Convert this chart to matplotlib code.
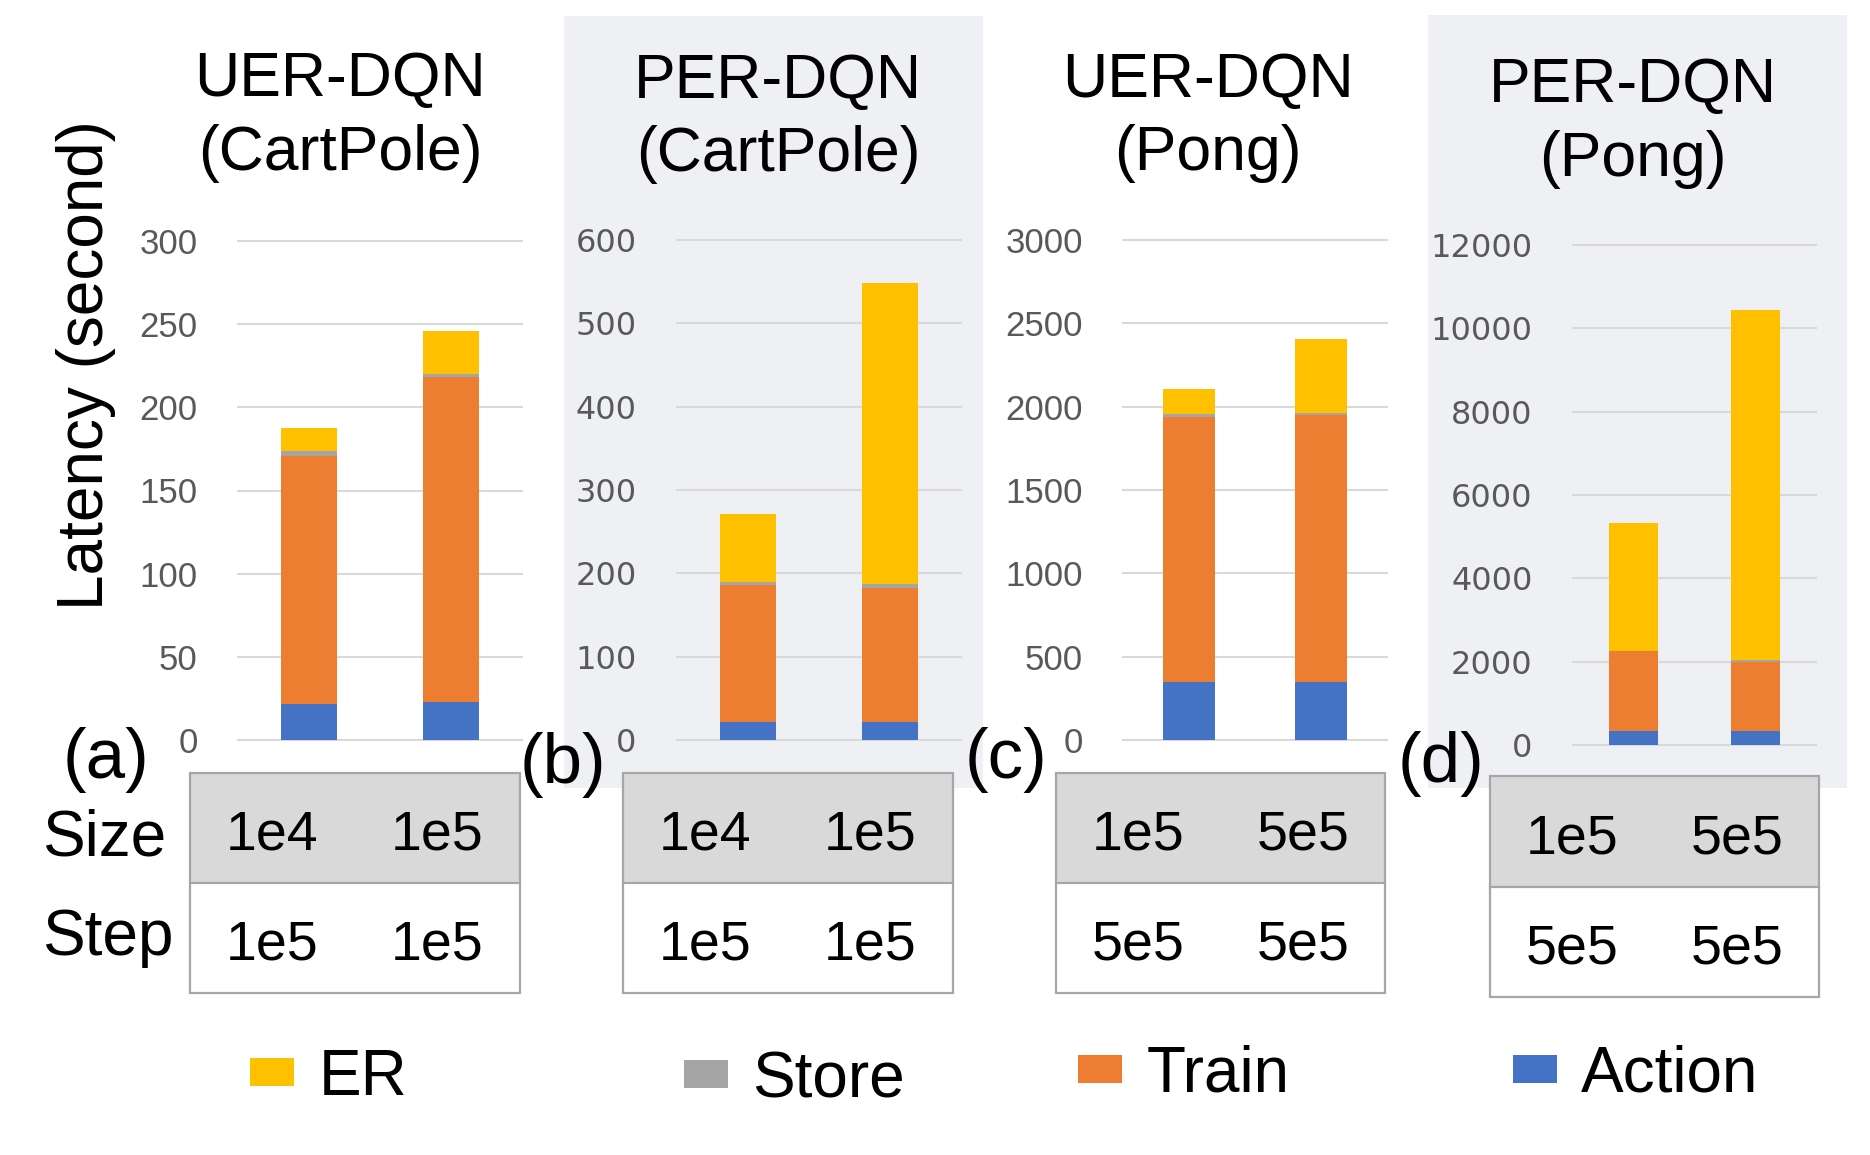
import numpy as np
import matplotlib
matplotlib.use("Agg")
import matplotlib.pyplot as plt
from matplotlib.patches import Rectangle

plt.rcParams['font.family'] = ['Liberation Sans', 'DejaVu Sans']

# ---------------- data ----------------
series = ['Action', 'Train', 'Store', 'ER']          # stacking order (bottom -> top)
legend_order = ['ER', 'Store', 'Train', 'Action']
colors = {'ER': '#FFC000', 'Store': '#A5A5A5', 'Train': '#ED7D31', 'Action': '#4472C4'}

titles_line1 = ['UER-DQN', 'PER-DQN', 'UER-DQN', 'PER-DQN']
titles_line2 = ['(CartPole)', '(CartPole)', '(Pong)', '(Pong)']
panel_tags = ['(a)', '(b)', '(c)', '(d)']

action_a = [21.6, 22.8]
train_a = [149.1, 195.2]
store_a = [2.8, 2.1]
er_a = [14.0, 25.5]

action_b = [22.1, 22.1]
train_b = [163.6, 160.6]
store_b = [4.2, 4.8]
er_b = [81.7, 361.1]

action_c = [349, 349]
train_c = [1592, 1603]
store_c = [15, 13]
er_c = [153, 444]

action_d = [346, 346]
train_d = [1899, 1648]
store_d = [15, 36]
er_d = [3065, 8406]

yticks_a = [0, 50, 100, 150, 200, 250, 300]
yticks_b = [0, 100, 200, 300, 400, 500, 600]
yticks_c = [0, 500, 1000, 1500, 2000, 2500, 3000]
yticks_d = [0, 2000, 4000, 6000, 8000, 10000, 12000]

row_labels = ['Size', 'Step']
size_a, step_a = ['1e4', '1e5'], ['1e5', '1e5']
size_b, step_b = ['1e4', '1e5'], ['1e5', '1e5']
size_c, step_c = ['1e5', '5e5'], ['5e5', '5e5']
size_d, step_d = ['1e5', '5e5'], ['5e5', '5e5']

ylabel = 'Latency (second)'

panels = [
    dict(Action=action_a, Train=train_a, Store=store_a, ER=er_a, yticks=yticks_a, size=size_a, step=step_a),
    dict(Action=action_b, Train=train_b, Store=store_b, ER=er_b, yticks=yticks_b, size=size_b, step=step_b),
    dict(Action=action_c, Train=train_c, Store=store_c, ER=er_c, yticks=yticks_c, size=size_c, step=step_c),
    dict(Action=action_d, Train=train_d, Store=store_d, ER=er_d, yticks=yticks_d, size=size_d, step=step_d),
]

# ---------------- layout (pixels) ----------------
W, H = 1870, 1155
fig = plt.figure(figsize=(W / 100, H / 100), dpi=100)
fig.patch.set_facecolor('white')

# overlay axes in pixel coordinates for decorations
ov = fig.add_axes([0, 0, 1, 1])
ov.set_xlim(0, W)
ov.set_ylim(H, 0)
ov.axis('off')

shade_boxes = [None, (564, 16, 983, 788), None, (1428, 15, 1847, 788)]
axes_boxes = [(238, 241, 522, 740), (677, 240, 961, 740), (1123, 240, 1387, 740), (1573, 245, 1816, 745)]
title_x = [340, 778, 1208, 1633]
title_y1 = [96, 98, 97, 102]
title_y2 = [170, 171, 170, 176]
tag_x = [63, 520, 965, 1398]
tag_y = [778, 783, 778, 782]
table_boxes = [(190, 773, 520, 993), (623, 773, 953, 993), (1056, 773, 1385, 993), (1490, 776, 1819, 997)]
tick_fonts = ['Liberation Sans', 'DejaVu Sans', 'Liberation Sans', 'DejaVu Sans']
tick_sizes = [25, 23, 25, 23]

for sb in shade_boxes:
    if sb is not None:
        x0, y0, x1, y1 = sb
        ov.add_patch(Rectangle((x0, y0), x1 - x0, y1 - y0, facecolor='#EFF0F4', edgecolor='none', zorder=0))

# tables
for i, (tb, p) in enumerate(zip(table_boxes, panels)):
    x0, y0, x1, y1 = tb
    ym = (y0 + y1) / 2
    ov.add_patch(Rectangle((x0, y0), x1 - x0, ym - y0, facecolor='#D9D9D9', edgecolor='none', zorder=2))
    ov.add_patch(Rectangle((x0, y0), x1 - x0, y1 - y0, facecolor='none', edgecolor='#A6A6A6', lw=1.6, zorder=3))
    ov.plot([x0, x1], [ym, ym], color='#A6A6A6', lw=1.6, zorder=3)
    cw = (x1 - x0) / 2
    for j in range(2):
        cx = x0 + cw * (j + 0.5)
        ov.text(cx, y0 + 77, p['size'][j], fontsize=40, ha='center', va='baseline', zorder=4)
        ov.text(cx, y0 + 187, p['step'][j], fontsize=40, ha='center', va='baseline', zorder=4)

ov.text(42, 855, row_labels[0], fontsize=46, ha='left', va='baseline')
ov.text(42, 955, row_labels[1], fontsize=46, ha='left', va='baseline')

for i in range(4):
    ov.text(title_x[i], title_y1[i], titles_line1[i], fontsize=45, ha='center', va='baseline')
    ov.text(title_x[i], title_y2[i], titles_line2[i], fontsize=45, ha='center', va='baseline')
    ov.text(tag_x[i], tag_y[i], panel_tags[i], fontsize=51, ha='left', va='baseline', zorder=5)

ov.text(86, 365, ylabel, fontsize=46, rotation=90, ha='center', va='center')

# ---------------- bar panels ----------------
handles = {}
x = np.arange(2)
for i, (ab, p) in enumerate(zip(axes_boxes, panels)):
    x0, y0, x1, y1 = ab
    ax = fig.add_axes([x0 / W, 1 - y1 / H, (x1 - x0) / W, (y1 - y0) / H])
    ax.patch.set_visible(False)
    bottom = np.zeros(2)
    for s in series:
        vals = np.array(p[s], dtype=float)
        bc = ax.bar(x, vals, width=0.40, bottom=bottom, color=colors[s], zorder=3)
        bottom += vals
        if i == 0:
            handles[s] = bc
    yt = p['yticks']
    ax.set_xlim(-0.5, 1.5)
    ax.set_ylim(yt[0], yt[-1])
    ax.set_yticks(yt)
    ax.set_xticks([])
    ax.yaxis.grid(True, color='#D9D9D9', lw=1.5, zorder=0)
    for gl in ax.get_ygridlines():
        gl.set_clip_on(False)
    ax.set_axisbelow(True)
    for sp in ax.spines.values():
        sp.set_visible(False)
    ax.tick_params(axis='y', length=0, pad=29, labelsize=tick_sizes[i], labelcolor='#595959')
    for lbl in ax.get_yticklabels():
        lbl.set_fontfamily(tick_fonts[i])

# ---------------- legend ----------------
leg_x = {'ER': 250, 'Store': 684, 'Train': 1078, 'Action': 1513}
leg_y = {'ER': 1078, 'Store': 1080, 'Train': 1075, 'Action': 1075}
for s in legend_order:
    fig.legend(handles=[handles[s]], labels=[s], loc='center left',
               bbox_to_anchor=(leg_x[s] / W, 1 - leg_y[s] / H), frameon=False,
               fontsize=46, handlelength=0.69, handleheight=0.30, handletextpad=0.38,
               borderpad=0, borderaxespad=0)

fig.savefig('out.png', dpi=100)
